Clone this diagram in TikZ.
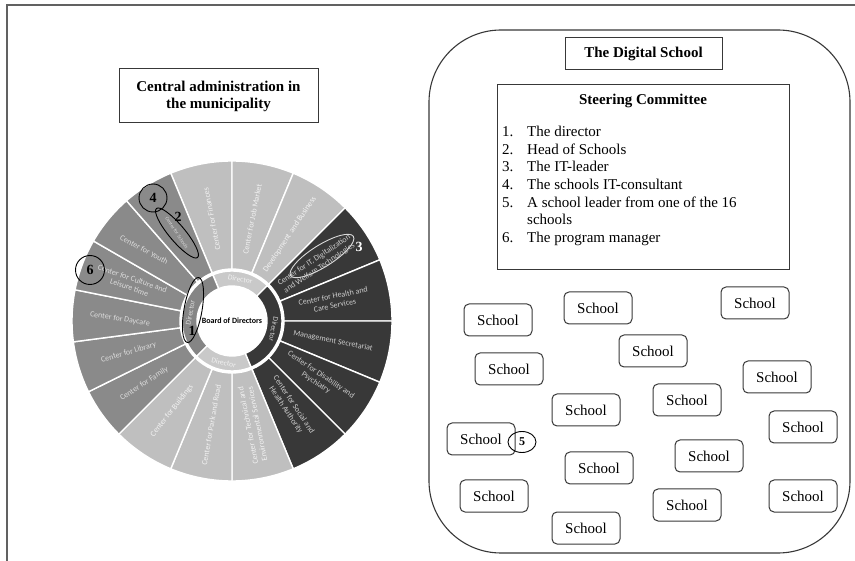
\documentclass[tikz,border=0pt]{standalone}
\usepackage{fontspec}
\setmainfont{Liberation Serif}
\newfontfamily\wheelfont{Carlito}
\usetikzlibrary{shapes.geometric}

\definecolor{framegray}{gray}{0.38}
\definecolor{boxgray}{gray}{0.22}
\definecolor{wlight}{gray}{0.75}
\definecolor{wlightring}{gray}{0.79}
\definecolor{wmid}{gray}{0.54}
\definecolor{wmidring}{gray}{0.52}
\definecolor{wdark}{gray}{0.22}
\definecolor{txlight}{gray}{0.95}
\definecolor{txmid}{gray}{0.86}
\definecolor{txdark}{gray}{0.80}

\begin{document}
\begin{tikzpicture}[x=1pt,y=-1pt,
  sector/.style={draw=white, line width=1.4pt},
  seclabel/.style={font=\wheelfont\fontsize{8}{9.4}\selectfont, align=center, inner sep=0pt},
  ringlabel/.style={font=\wheelfont\fontsize{7.5}{8}\selectfont, inner sep=0pt},
  markring/.style={draw=black, line width=0.9pt, ellipse, inner sep=0pt},
  marknum/.style={font=\bfseries\fontsize{14}{14}\selectfont, inner sep=0pt},
  titlebox/.style={draw=boxgray, line width=1pt, font=\bfseries\fontsize{15}{17}\selectfont, align=center},
  listtext/.style={font=\fontsize{15}{17}\selectfont, inner sep=0pt},
  schoolbox/.style={draw=boxgray, line width=1pt, rounded corners=5pt, minimum width=68pt,
    minimum height=32pt, font=\fontsize{15}{17}\selectfont, inner sep=0pt}]

\useasboundingbox (0,0) rectangle (855,561);

% outer frame
\coordinate (fbl) at (7,561);
\coordinate (ftl) at (7,5);
\coordinate (ftr) at (855,5);
\draw[framegray, line width=1.6pt] (fbl) -- (ftl) -- (ftr);

% ---------- left part: the municipality ----------
\node[titlebox, minimum width=199pt, minimum height=54pt] (central) at (218.5,96)
  {Central administration in\\the municipality};

\begin{scope}[shift={(232,321)}, y=1pt]
  % outer sectors
  \foreach \a/\b/\c in {90/112.5/wlight, 67.5/90/wlight, 45/67.5/wlight,
      22.5/45/wdark, 0/22.5/wdark, -22.5/0/wdark, -45/-22.5/wdark, -67.5/-45/wdark,
      -90/-67.5/wlight, -112.5/-90/wlight, -135/-112.5/wlight,
      206.25/225/wmid, 187.5/206.25/wmid, 168.75/187.5/wmid, 150/168.75/wmid,
      131.25/150/wmid, 112.5/131.25/wmid}
    \fill[fill=\c, sector] (\a:52) arc[start angle=\a, end angle=\b, radius=52]
      -- (\b:160) arc[start angle=\b, end angle=\a, radius=160] -- cycle;
  % director ring
  \foreach \a/\b/\c in {45/112.5/wlightring, 112.5/225/wmidring,
      225/292.5/wlightring, -67.5/45/wdark}
    \fill[fill=\c, sector] (\a:35) arc[start angle=\a, end angle=\b, radius=35]
      -- (\b:50) arc[start angle=\b, end angle=\a, radius=50] -- cycle;
  \node[circle, fill=white, minimum size=68pt, inner sep=0pt,
    font=\wheelfont\bfseries\fontsize{8}{9}\selectfont] (board) at (0,0) {Board of Directors};

  % ring labels
  \node[ringlabel, text=txlight, rotate=-11.25] (dirtop) at (78.75:42.5) {Director};
  \node[ringlabel, text=txdark, rotate=-101.25] (dirright) at (-11.25:42.5) {Director};
  \node[ringlabel, text=txlight, rotate=-11.25] (dirbottom) at (-101.25:42.5) {Director};
  \node[ringlabel, text=txmid, rotate=78.75] (dirleft) at (168.75:42.5) {Director};

  % sector labels
  \node[seclabel, text=txlight, rotate=101.25] (finances) at (101.25:104) {Center for Finances};
  \node[seclabel, text=txlight, rotate=78.75] (jobmarket) at (78.75:104) {Center for Job Market};
  \node[seclabel, text=txlight, rotate=56.25] (business) at (56.25:104) {Development\, and Business};
  \node[seclabel, text=txdark, rotate=33.75] (itdept) at (33.75:102)
    {Center for IT, Digitalization\\and Welfare Technologies};
  \node[seclabel, text=txdark, rotate=11.25] (health) at (11.25:104)
    {Center for Health and\\Care Services};
  \node[seclabel, text=txdark, rotate=-11.25] (management) at (-11.25:103) {Management Secretariat};
  \node[seclabel, text=txdark, rotate=-33.75] (disability) at (-33.75:104)
    {Center for Disability and\\Psychiatry};
  \node[seclabel, text=txdark, rotate=-56.25] (social) at (-56.25:104)
    {Center for Social and\\Health Authority};
  \node[seclabel, text=txlight, rotate=101.25] (technical) at (-78.75:106)
    {Center for Technical and\\Environmental Services};
  \node[seclabel, text=txlight, rotate=80] (parkroad) at (-101.25:106) {Center for Park and Road};
  \node[seclabel, text=txlight, rotate=52] (buildings) at (-123.75:108) {Center for Buildings};
  \node[seclabel, text=txmid, rotate=33] (family) at (215.6:108) {Center for Family};
  \node[seclabel, text=txmid, rotate=16] (library) at (196.9:108) {Center for Library};
  \node[seclabel, text=txmid, rotate=-9] (daycare) at (179:112) {Center for Daycare};
  \node[seclabel, text=txmid, rotate=-19] (culture) at (159.4:108)
    {Center for Culture and\\Leisure time};
  \node[seclabel, text=txmid, rotate=-28] (youth) at (141:113) {Center for Youth};
  \node[font=\wheelfont\fontsize{5}{6}\selectfont, text=txmid, inner sep=0pt, rotate=-56]
    (schools) at (122:104) {Center for Schools};
\end{scope}

% numbered markers on the wheel
\node[markring, minimum width=66pt, minimum height=18pt, rotate=80] (m1) at (193,310) {};
\node[marknum] (n1) at (192,331) {1};
\node[markring, minimum width=64pt, minimum height=16pt, rotate=-50] (m2) at (177,233) {};
\node[marknum] (n2) at (178,217) {2};
\node[markring, draw=white!85!black, minimum width=74pt, minimum height=22pt, rotate=32] (m3) at (322,256) {};
\node[marknum, text=white] (n3) at (359,247) {3};
\node[markring, circle, minimum size=28pt] (m4) at (153,198) {};
\node[marknum] (n4) at (m4) {4};
\node[markring, circle, minimum size=29pt] (m6) at (90,270) {};
\node[marknum] (n6) at (m6) {6};

% ---------- right part: the digital school ----------
\draw[boxgray, line width=1.1pt, rounded corners=72pt] (429,30) rectangle (850,553);

\node[titlebox, minimum width=157pt, minimum height=32pt] (digital) at (643.5,54) {The Digital School};

\node[draw=boxgray, line width=1pt, minimum width=292pt, minimum height=185pt] (steering) at (643,177.5) {};
\node[font=\bfseries\fontsize{15}{17}\selectfont, anchor=base, inner sep=0pt] (steertitle) at (643,105)
  {Steering Committee};
\foreach \n/\t/\y [count=\i] in {1./The director/137, 2./Head of Schools/155,
    3./The IT-leader/172, 4./The schools IT-consultant/190,
    5./A school leader from one of the 16/207.5, 6./The program manager/243} {
  \node[listtext, anchor=base west] (num\i) at (502,\y) {\n};
  \node[listtext, anchor=base west] (item\i) at (527,\y) {\t};
}
\node[listtext, anchor=base west] (item5b) at (527,225) {schools};

% the sixteen schools
\foreach \x/\y [count=\i] in {498/320, 598/308, 755/303, 653/351, 509/369, 777/377,
    586/410, 687/400, 803/427, 481/439, 709/456, 599/468, 494/496, 687/505,
    803/496, 586/528}
  \node[schoolbox] (school\i) at (\x,\y) {School};

\node[markring, minimum width=28pt, minimum height=21pt] (m5) at (522,442) {};
\node[font=\bfseries\fontsize{12}{12}\selectfont, inner sep=0pt] (n5) at (m5) {5};

\end{tikzpicture}
\end{document}
